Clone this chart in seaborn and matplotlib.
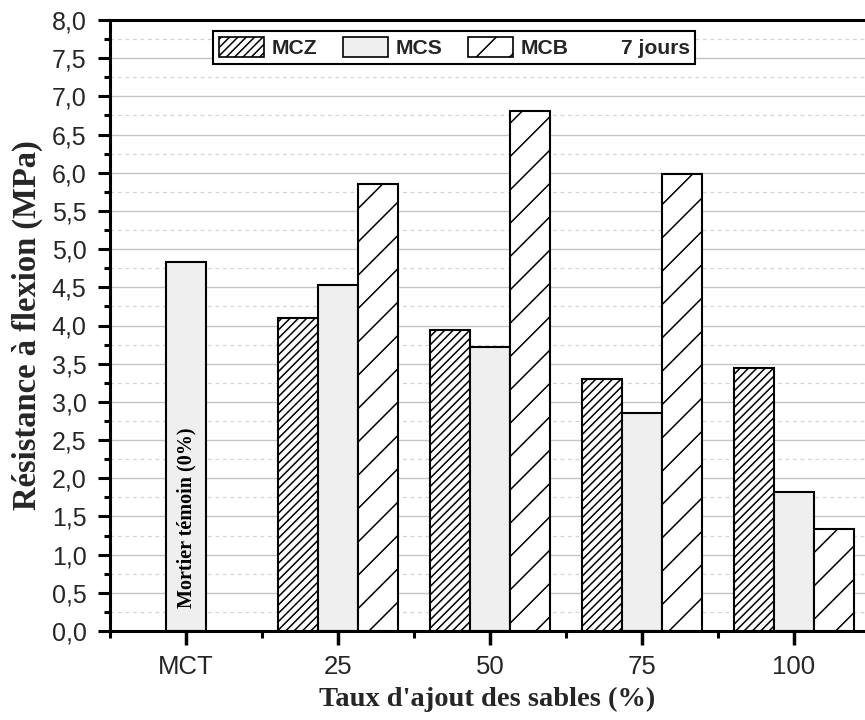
import numpy as np
import pandas as pd
import matplotlib
matplotlib.use("Agg")
import matplotlib.pyplot as plt
from matplotlib.patches import Patch
from matplotlib.offsetbox import DrawingArea
from matplotlib.ticker import MultipleLocator, FuncFormatter, FixedLocator
import seaborn as sns

# Flexural strength at 7 days (MPa)
categories = ["MCT", "25", "50", "75", "100"]
series = ["MCZ", "MCS", "MCB"]
mcz = [None, 4.10, 3.94, 3.30, 3.44]
mcs = [4.83, 4.53, 3.72, 2.86, 1.82]
mcb = [None, 5.85, 6.81, 5.98, 1.33]

rows = []
for name, vals in zip(series, [mcz, mcs, mcb]):
    for cat, v in zip(categories, vals):
        if v is not None:
            rows.append({"taux": cat, "serie": name, "valeur": v})
df = pd.DataFrame(rows)

sns.set_theme(style="white")
plt.rcParams["font.family"] = ["Liberation Sans", "DejaVu Sans"]
plt.rcParams["hatch.linewidth"] = 1.1
plt.rcParams["hatch.color"] = "black"

fill_mcs = "#efefef"

fig = plt.figure(figsize=(8.65, 7.2), dpi=100)
ax = fig.add_axes([110 / 865, 1 - 631 / 720, 1 - 110 / 865, (631 - 20) / 720])

sns.barplot(data=df, x="taux", y="valeur", hue="serie", order=categories,
            hue_order=series, width=0.79, ax=ax, legend=False,
            palette={"MCZ": "white", "MCS": fill_mcs, "MCB": "white"},
            edgecolor="black", linewidth=1.5, saturation=1)

hatches = {"MCZ": "////", "MCB": "/", "MCS": ""}
for cont, name in zip(ax.containers, series):
    for bar in cont:
        bar.set_hatch(hatches[name])
        bar.set_edgecolor("black")

ax.set_xlim(-0.5, 4.467)
ax.set_ylim(0, 8)

# grid: solid at major, dashed at minor
ax.yaxis.set_major_locator(MultipleLocator(0.5))
ax.yaxis.set_minor_locator(MultipleLocator(0.25))
ax.yaxis.set_major_formatter(FuncFormatter(lambda v, p: f"{v:.1f}".replace(".", ",")))
ax.grid(axis="y", which="major", color="#c4c4c4", linewidth=1.0, linestyle="-")
ax.grid(axis="y", which="minor", color="#d4d4d4", linewidth=0.9, linestyle=(0, (3, 3)))
ax.grid(axis="x", visible=False)
ax.set_axisbelow(True)

ax.xaxis.set_minor_locator(FixedLocator([-0.5, 0.5, 1.5, 2.5, 3.5, 4.5]))

for side in ["left", "bottom", "top"]:
    ax.spines[side].set_visible(True)
    ax.spines[side].set_color("black")
    ax.spines[side].set_linewidth(2.2)
ax.spines["right"].set_visible(False)

ax.tick_params(axis="y", which="major", direction="out", length=9, width=2.2,
               labelsize=18, color="black", left=True, pad=8)
ax.tick_params(axis="y", which="minor", direction="out", length=4.5, width=2.2,
               color="black", left=True)
ax.tick_params(axis="x", which="major", direction="out", length=10, width=2.5,
               labelsize=18.5, color="black", bottom=True, pad=7)
ax.tick_params(axis="x", which="minor", direction="out", length=5, width=2.2,
               color="black", bottom=True)
ax.tick_params(top=False, which="both")

serif = ["Liberation Serif", "DejaVu Serif"]
ax.set_xlabel("Taux d'ajout des sables (%)", family=serif, fontweight="bold",
              fontsize=20.5, labelpad=6)
ax.set_ylabel("Résistance à flexion (MPa)", family=serif, fontweight="bold",
              fontsize=23.5, labelpad=6)

ax.text(0, 0.3, "Mortier témoin (0%)", rotation=90, ha="center", va="bottom",
        family=serif, fontweight="bold", fontsize=14.5, color="black")

handles = [
    Patch(facecolor="white", edgecolor="black", hatch="////", linewidth=1.2),
    Patch(facecolor=fill_mcs, edgecolor="black", linewidth=1.2),
    Patch(facecolor="white", edgecolor="black", hatch="/", linewidth=1.2),
    Patch(facecolor="none", edgecolor="none"),
]
labels = ["MCZ", "MCS", "MCB", "7 jours"]
leg = fig.legend(handles, labels, ncol=4, loc="upper left",
                 bbox_to_anchor=(213 / 865, 1 - 31 / 720),
                 prop={"family": ["Liberation Sans", "DejaVu Sans"], "weight": "bold", "size": 15.2},
                 frameon=True, fancybox=False, shadow=False, framealpha=1,
                 edgecolor="black", handlelength=2.15, handleheight=1.1,
                 handletextpad=0.35, columnspacing=1.2, borderpad=0.28,
                 borderaxespad=0)
leg.get_frame().set_linewidth(1.5)
# the "7 jours" entry has no swatch: shrink its empty handle box
areas = leg.findobj(DrawingArea)
if areas:
    areas[-1].width = 14

fig.savefig("out.png", dpi=100)
